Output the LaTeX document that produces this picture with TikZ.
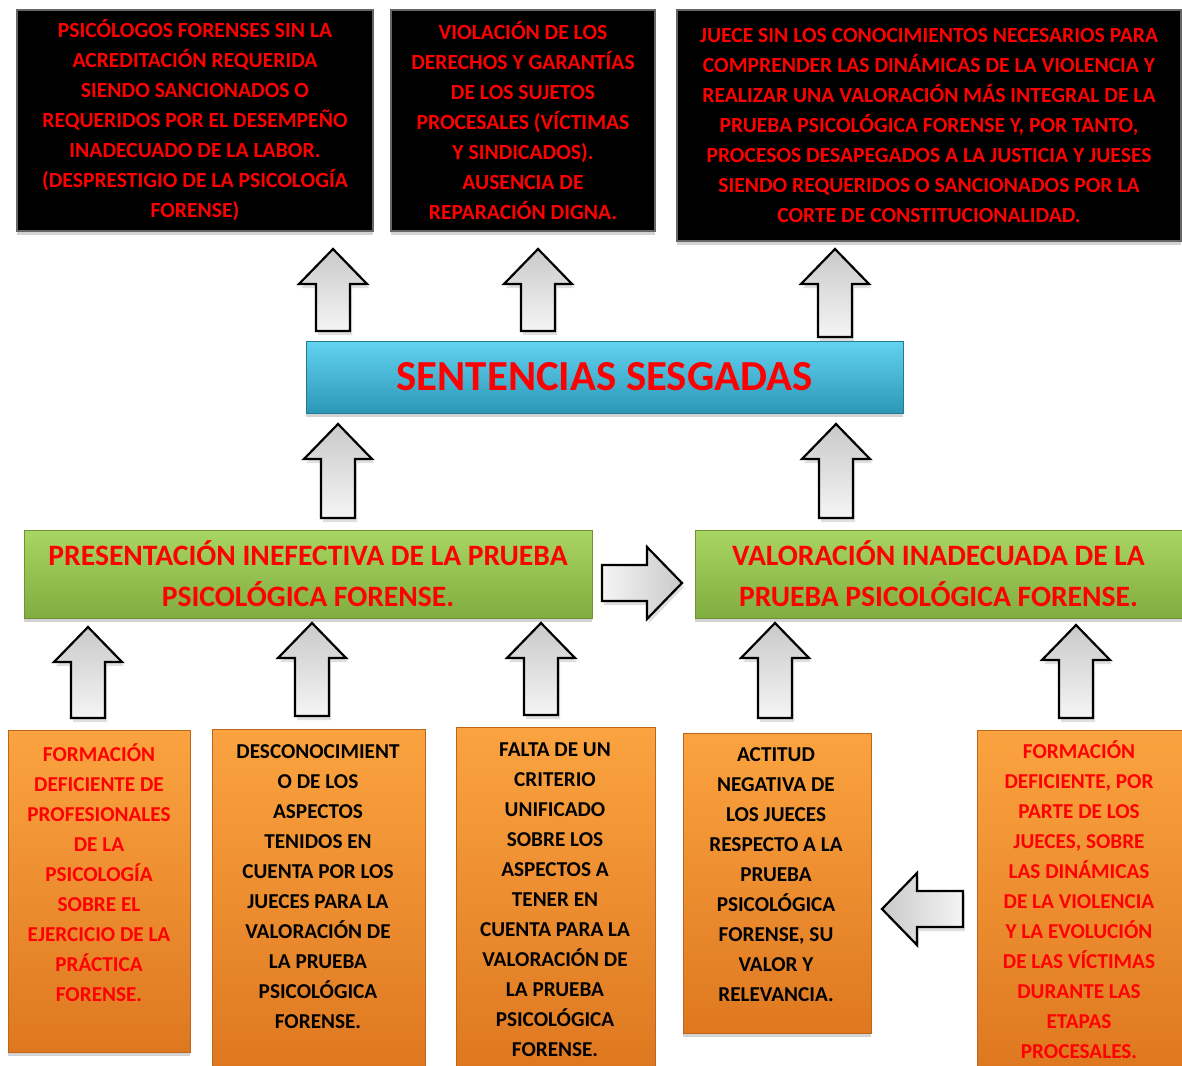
\documentclass[tikz,border=0pt]{standalone}
\usepackage{fontspec}
\setmainfont{Carlito}
\usetikzlibrary{shadows,positioning}

\definecolor{boxred}{HTML}{FF0000}
\definecolor{cyantop}{HTML}{62D3F0}
\definecolor{cyanbot}{HTML}{2C97B6}
\definecolor{greentop}{HTML}{A9D563}
\definecolor{greenbot}{HTML}{80AD3F}
\definecolor{orangetop}{HTML}{FBA340}
\definecolor{orangebot}{HTML}{DE7820}

\newcommand{\topstrut}{\rule{0pt}{10pt}}
% block arrows: centre x, tip y, tail y
\newcommand{\upblock}[3]{%
  \draw[blockarrow, top color=gray!42, bottom color=gray!8] ({#1-17},#3) -- ({#1-17},{#2+35}) -- ({#1-34},{#2+35}) -- (#1,#2) -- ({#1+34},{#2+35}) -- ({#1+17},{#2+35}) -- ({#1+17},#3) -- cycle;}
% tail x, tip x, centre y
\newcommand{\rightblock}[3]{%
  \draw[blockarrow, left color=gray!8, right color=gray!42] (#1,{#3-18}) -- ({#2-35},{#3-18}) -- ({#2-35},{#3-36}) -- (#2,#3) -- ({#2-35},{#3+36}) -- ({#2-35},{#3+18}) -- (#1,{#3+18}) -- cycle;}
\newcommand{\leftblock}[3]{%
  \draw[blockarrow, left color=gray!42, right color=gray!8] (#1,{#3-18}) -- ({#2+35},{#3-18}) -- ({#2+35},{#3-36}) -- (#2,#3) -- ({#2+35},{#3+36}) -- ({#2+35},{#3+18}) -- (#1,{#3+18}) -- cycle;}

\begin{document}
\begin{tikzpicture}[x=0.5pt,y=-0.5pt,
    boxshadow/.style={drop shadow={shadow xshift=0pt,shadow yshift=-2pt,opacity=.35}},
    blackbox/.style={rectangle,fill=black,draw=black!60,line width=1pt,boxshadow,text=boxred,align=center,inner sep=0pt,font=\bfseries\fontsize{10.8}{15}\selectfont},
    cyanbox/.style={rectangle,top color=cyantop,bottom color=cyanbot,draw=cyanbot!80!black,line width=.5pt,boxshadow,text=boxred,inner sep=0pt,font=\bfseries\fontsize{21.4}{24}\selectfont},
    greenbox/.style={rectangle,top color=greentop,bottom color=greenbot,draw=greenbot!85!black,line width=.5pt,boxshadow,text=boxred,align=center,inner sep=0pt,font=\bfseries\fontsize{14.8}{20.5}\selectfont},
    orangebox/.style={rectangle,top color=orangetop,bottom color=orangebot,draw=orangebot!85!black,line width=.5pt,boxshadow,inner sep=0pt},
    orangetext/.style={anchor=north,align=center,inner sep=0pt,font=\bfseries\fontsize{10.6}{15}\selectfont},
    blockarrow/.style={draw=black,line width=1.1pt,line join=miter,drop shadow={shadow xshift=1pt,shadow yshift=-2pt,opacity=.25}}]
  \useasboundingbox (0,0) rectangle (1182,1065);

  % consequences
  \node[blackbox,minimum width=178pt,minimum height=110.5pt] (acred) at (195,120.5) {PSICÓLOGOS FORENSES SIN LA\\ACREDITACIÓN REQUERIDA\\SIENDO SANCIONADOS O\\REQUERIDOS POR EL DESEMPEÑO\\INADECUADO DE LA LABOR.\\(DESPRESTIGIO DE LA PSICOLOGÍA\\FORENSE)};
  \node[blackbox,minimum width=132pt,minimum height=110.5pt] (derechos) at (523,120.5) {VIOLACIÓN DE LOS\\DERECHOS Y GARANTÍAS\\DE LOS SUJETOS\\PROCESALES (VÍCTIMAS\\Y SINDICADOS).\\AUSENCIA DE\\REPARACIÓN DIGNA.};
  \node[blackbox,minimum width=252pt,minimum height=115.5pt] (juece) at (929,125.5) {JUECE SIN LOS CONOCIMIENTOS NECESARIOS PARA\\COMPRENDER LAS DINÁMICAS DE LA VIOLENCIA Y\\REALIZAR UNA VALORACIÓN MÁS INTEGRAL DE LA\\PRUEBA PSICOLÓGICA FORENSE Y, POR TANTO,\\PROCESOS DESAPEGADOS A LA JUSTICIA Y JUESES\\SIENDO REQUERIDOS O SANCIONADOS POR LA\\CORTE DE CONSTITUCIONALIDAD.};

  % central problem
  \node[cyanbox,minimum width=298.5pt,minimum height=36pt] (sesgo) at (604.5,377) {SENTENCIAS SESGADAS};

  % direct causes
  \node[greenbox,minimum width=284pt,minimum height=44pt] (present) at (308,574) {PRESENTACIÓN INEFECTIVA DE LA PRUEBA\\PSICOLÓGICA FORENSE.};
  \node[greenbox,minimum width=243.5pt,minimum height=44pt] (valor) at (938.5,574) {VALORACIÓN INADECUADA DE LA\\PRUEBA PSICOLÓGICA FORENSE.};

  % root causes
  \node[orangebox,minimum width=91pt,minimum height=161pt] (formpsi) at (99,891) {};
  \node[orangebox,minimum width=106.5pt,minimum height=169.5pt] (descon) at (318.5,898.5) {};
  \node[orangebox,minimum width=99.5pt,minimum height=170.5pt] (criterio) at (555.5,897.5) {};
  \node[orangebox,minimum width=94pt,minimum height=150pt] (actitud) at (777,883) {};
  \node[orangebox,minimum width=102.5pt,minimum height=169pt] (formjue) at (1079.5,899) {};

  \node[orangetext,text=boxred] (formpsi-t) at (99,741.5) {\topstrut FORMACIÓN\\DEFICIENTE DE\\PROFESIONALES\\DE LA\\PSICOLOGÍA\\SOBRE EL\\EJERCICIO DE LA\\PRÁCTICA\\FORENSE.};
  \node[orangetext] (descon-t) at (318,738.5) {\topstrut DESCONOCIMIENT\\O DE LOS\\ASPECTOS\\TENIDOS EN\\CUENTA POR LOS\\JUECES PARA LA\\VALORACIÓN DE\\LA PRUEBA\\PSICOLÓGICA\\FORENSE.};
  \node[orangetext] (criterio-t) at (555,736.5) {\topstrut FALTA DE UN\\CRITERIO\\UNIFICADO\\SOBRE LOS\\ASPECTOS A\\TENER EN\\CUENTA PARA LA\\VALORACIÓN DE\\LA PRUEBA\\PSICOLÓGICA\\FORENSE.};
  \node[orangetext] (actitud-t) at (776,741.5) {\topstrut ACTITUD\\NEGATIVA DE\\LOS JUECES\\RESPECTO A LA\\PRUEBA\\PSICOLÓGICA\\FORENSE, SU\\VALOR Y\\RELEVANCIA.};
  \node[orangetext,text=boxred] (formjue-t) at (1079,738.5) {\topstrut FORMACIÓN\\DEFICIENTE, POR\\PARTE DE LOS\\JUECES, SOBRE\\LAS DINÁMICAS\\DE LA VIOLENCIA\\Y LA EVOLUCIÓN\\DE LAS VÍCTIMAS\\DURANTE LAS\\ETAPAS\\PROCESALES.};

  % arrows
  \upblock{333}{249}{331}
  \upblock{538}{249}{331}
  \upblock{835}{249}{337}
  \upblock{338}{424}{518}
  \upblock{836}{424}{518}
  \upblock{88}{627}{718}
  \upblock{312}{623}{716}
  \upblock{541}{623}{715}
  \upblock{775}{623}{718}
  \upblock{1076}{625}{718}
  \rightblock{602}{682}{583}
  \leftblock{963}{882}{909}
\end{tikzpicture}
\end{document}
